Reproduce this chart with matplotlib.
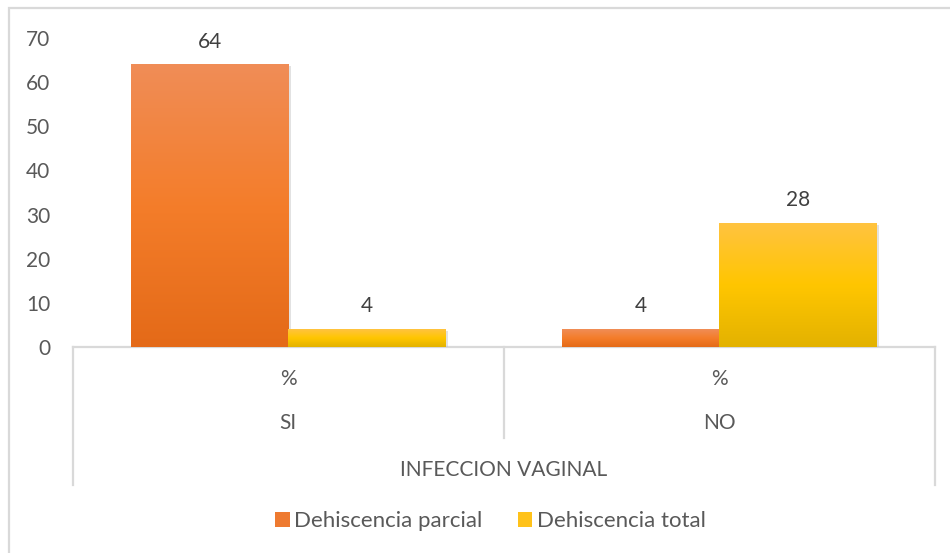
import matplotlib
matplotlib.use("Agg")
import matplotlib.pyplot as plt
import numpy as np
from matplotlib.colors import LinearSegmentedColormap
from matplotlib.patches import Rectangle, Patch
from matplotlib.transforms import blended_transform_factory

plt.rcParams['font.family'] = ['Lato', 'DejaVu Sans']

groups = ["SI", "NO"]
sublabels = ["%", "%"]
axis_title = "INFECCION VAGINAL"
series_names = ["Dehiscencia parcial", "Dehiscencia total"]
parcial = [64, 4]
total = [4, 28]
yticks = [0, 10, 20, 30, 40, 50, 60, 70]

txt = "#595959"
grid_c = "#D9D9D9"
orange_grad = ["#E46A18", "#F47D2A", "#F08D57"]
yellow_grad = ["#E3B200", "#FFC600", "#FFC340"]
FS = 15

fig = plt.figure(figsize=(9.5, 5.53), dpi=100)
W, H = 950, 553
ax = fig.add_axes([72.7 / W, 1 - 347 / H, (935 - 72.7) / W, (347 - 38) / H])

# figure border
fig.patches.append(Rectangle((8.5 / W, -0.1), 1.2, 1 - 8.5 / H + 0.1, transform=fig.transFigure,
                             fill=False, edgecolor=grid_c, linewidth=1.6))

x = np.arange(len(groups))
bw = 0.365
b1 = ax.bar(x - bw / 2, parcial, bw, color="none", linewidth=0, zorder=3)
b2 = ax.bar(x + bw / 2, total, bw, color="none", linewidth=0, zorder=3)

def gradient_fill(bars, cols):
    cmap = LinearSegmentedColormap.from_list("g", cols)
    grad = np.linspace(0, 1, 256).reshape(-1, 1)
    for b in bars:
        x0, y0 = b.get_x(), b.get_y()
        w, h = b.get_width(), b.get_height()
        # shadow
        ax.add_patch(Rectangle((x0 + 0.006, y0 - 0.35), w, h, facecolor="#BFBFBF",
                               alpha=0.45, linewidth=0, zorder=2))
        im = ax.imshow(grad, extent=[x0, x0 + w, y0, y0 + h], origin="lower",
                       aspect="auto", cmap=cmap, zorder=3)
        im.set_clip_path(b)

gradient_fill(b1, orange_grad)
gradient_fill(b2, yellow_grad)

for bars, vals in ((b1, parcial), (b2, total)):
    for b, v in zip(bars, vals):
        ax.text(b.get_x() + b.get_width() / 2, v + 5.2, f"{v}", ha="center", va="center",
                fontsize=FS, color="#404040")

ax.set_xlim(-0.5, len(groups) - 0.5)
ax.set_ylim(0, 70)
ax.set_yticks(yticks)
ax.tick_params(axis="y", length=0, pad=16, labelsize=FS, labelcolor=txt)
ax.set_xticks([])
for s in ["top", "right", "left"]:
    ax.spines[s].set_visible(False)
ax.spines["bottom"].set_color(grid_c)
ax.spines["bottom"].set_linewidth(1.6)
ax.spines["bottom"].set_zorder(1)

tr = blended_transform_factory(ax.transData, fig.transFigure)
def fy(py):
    return 1 - py / H

# multi-level category axis
for i, (g, s) in enumerate(zip(groups, sublabels)):
    ax.text(i, fy(379), s, transform=tr, ha="center", va="center", fontsize=FS, color=txt)
    ax.text(i, fy(423), g, transform=tr, ha="center", va="center", fontsize=FS, color=txt)
ax.text(0.5, fy(470), axis_title, transform=tr, ha="center", va="center", fontsize=FS, color=txt)

lk = dict(transform=tr, color=grid_c, linewidth=1.6, clip_on=False)
ax.plot([-0.5, -0.5], [fy(347), fy(485)], **lk)
ax.plot([1.5, 1.5], [fy(347), fy(485)], **lk)
ax.plot([0.5, 0.5], [fy(347), fy(438)], **lk)

# legend
handles = [Patch(facecolor="#EE7A30", edgecolor="none"), Patch(facecolor="#FFC21A", edgecolor="none")]
fig.legend(handles, series_names, loc="center", bbox_to_anchor=(490.5 / W, fy(521)), ncol=2,
           frameon=False, fontsize=16, labelcolor=txt, handlelength=0.65, handleheight=0.65,
           handletextpad=0.2, columnspacing=1.6)

fig.savefig("out.png", dpi=100, facecolor="white")
